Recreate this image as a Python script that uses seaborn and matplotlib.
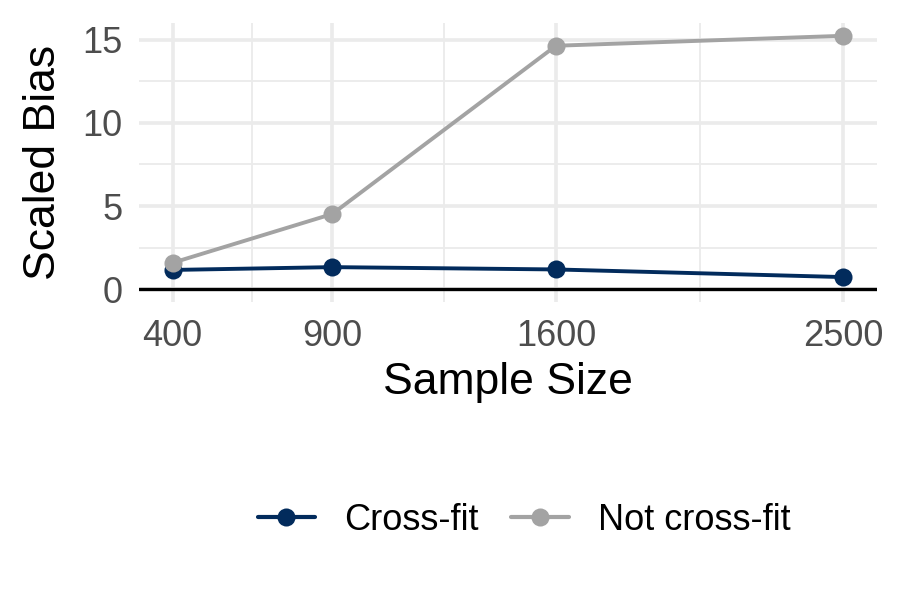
import matplotlib
matplotlib.use("Agg")
import matplotlib.pyplot as plt
import seaborn as sns
import pandas as pd
from matplotlib.lines import Line2D

sample_sizes = [400, 900, 1600, 2500]
cross_fit = [1.15, 1.32, 1.18, 0.72]
not_cross_fit = [1.58, 4.52, 14.65, 15.25]
series_names = ["Cross-fit", "Not cross-fit"]
x_ticks = [400, 900, 1600, 2500]
y_ticks = [0, 5, 10, 15]

df = pd.DataFrame({
    "Sample Size": sample_sizes * 2,
    "Scaled Bias": cross_fit + not_cross_fit,
    "Method": [series_names[0]] * 4 + [series_names[1]] * 4,
})

sns.set_theme(style="white")
plt.rcParams["font.family"] = ["Liberation Sans", "DejaVu Sans"]

colors = {"Cross-fit": "#022B5C", "Not cross-fit": "#A3A3A3"}

fig = plt.figure(figsize=(9, 6), dpi=100)
ax = fig.add_axes([139 / 900, 1 - 302 / 600, 738 / 900, 279 / 600])

ax.set_xticks([650, 1250, 2050], minor=True)
ax.set_yticks([2.5, 7.5, 12.5], minor=True)
ax.grid(which="major", color="#EBEBEB", linewidth=2.6)
ax.grid(which="minor", color="#EBEBEB", linewidth=1.3)
ax.set_axisbelow(True)

ax.axhline(0, color="black", linewidth=2.4, zorder=2)

sns.lineplot(data=df, x="Sample Size", y="Scaled Bias", hue="Method",
             hue_order=series_names, palette=colors, marker="o",
             markersize=13, markeredgewidth=0, linewidth=2.8, ax=ax,
             legend=False, zorder=3)

ax.set_xlim(295, 2605)
ax.set_ylim(-0.78, 16.02)
ax.set_xticks(x_ticks)
ax.set_xticklabels([str(v) for v in x_ticks])
ax.set_yticks(y_ticks)
ax.set_yticklabels([str(v) for v in y_ticks])
ax.tick_params(axis="both", which="both", length=0, labelsize=26,
               labelcolor="#4D4D4D", pad=12)
for s in ax.spines.values():
    s.set_visible(False)

ax.set_xlabel("Sample Size", fontsize=32, color="black", labelpad=6)
ax.set_ylabel("Scaled Bias", fontsize=32, color="black", labelpad=13)

handles = [Line2D([0], [0], color=colors[n], marker="o", markersize=13,
                  markeredgewidth=0, linewidth=3.0) for n in series_names]
leg = fig.legend(handles, series_names, loc="center",
                 bbox_to_anchor=(524 / 900, 1 - 520 / 600), ncol=2,
                 frameon=False, fontsize=26, handlelength=1.6,
                 columnspacing=0.9, handletextpad=0.8)
for t in leg.get_texts():
    t.set_color("black")

fig.savefig("out.png", dpi=100)
